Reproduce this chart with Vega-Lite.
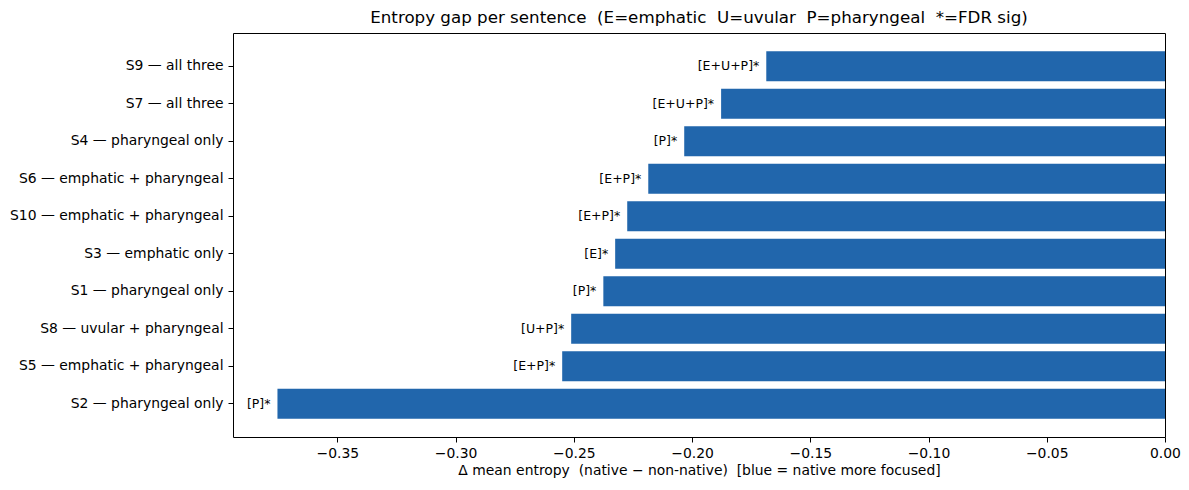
{
  "$schema": "https://vega.github.io/schema/vega-lite/v6.json",
  "width": 932,
  "height": 404,
  "autosize": "none",
  "padding": {"left": 233, "top": 33, "right": 24, "bottom": 53},
  "background": "white",
  "config": {
    "font": "DejaVu Sans",
    "view": {"stroke": "black", "strokeWidth": 1},
    "axis": {"grid": false, "domainColor": "black", "tickColor": "black", "labelColor": "black", "titleColor": "black", "labelFont": "DejaVu Sans", "titleFont": "DejaVu Sans", "titleFontWeight": "normal"}
  },
  "title": {"text": "Entropy gap per sentence \u00a0(E=emphatic \u00a0U=uvular \u00a0P=pharyngeal \u00a0*=FDR sig)", "fontSize": 16.7, "fontWeight": "normal", "color": "black", "offset": 6, "font": "DejaVu Sans"},
  "data": {
    "values": [
      {"sentence": "S9 — all three", "gap": -0.1686, "tag": "[E+U+P]*"},
      {"sentence": "S7 — all three", "gap": -0.1877, "tag": "[E+U+P]*"},
      {"sentence": "S4 — pharyngeal only", "gap": -0.2033, "tag": "[P]*"},
      {"sentence": "S6 — emphatic + pharyngeal", "gap": -0.2185, "tag": "[E+P]*"},
      {"sentence": "S10 — emphatic + pharyngeal", "gap": -0.2274, "tag": "[E+P]*"},
      {"sentence": "S3 — emphatic only", "gap": -0.2325, "tag": "[E]*"},
      {"sentence": "S1 — pharyngeal only", "gap": -0.2375, "tag": "[P]*"},
      {"sentence": "S8 — uvular + pharyngeal", "gap": -0.2511, "tag": "[U+P]*"},
      {"sentence": "S5 — emphatic + pharyngeal", "gap": -0.2549, "tag": "[E+P]*"},
      {"sentence": "S2 — pharyngeal only", "gap": -0.3753, "tag": "[P]*"}
    ]
  },
  "encoding": {
    "y": {
      "field": "sentence", "type": "nominal", "sort": null,
      "scale": {"paddingInner": 0.2, "paddingOuter": 0.49},
      "axis": {"title": null, "labelFontSize": 13.9, "tickSize": 5, "labelPadding": 5, "labelLimit": 400, "domain": false}
    },
    "x": {
      "field": "gap", "type": "quantitative",
      "scale": {"domain": [-0.3941, 0], "nice": false, "zero": false},
      "axis": {"title": "Δ mean entropy \u00a0(native − non-native) \u00a0[blue = native more focused]", "values": [-0.35, -0.3, -0.25, -0.2, -0.15, -0.1, -0.05, 0], "format": ".2f", "labelFontSize": 13.9, "titleFontSize": 13.9, "tickSize": 5, "labelPadding": 4, "titlePadding": 4, "domain": false, "labelFlush": false}
    }
  },
  "layer": [
    {
      "mark": {"type": "bar", "color": "#2166ac"},
      "encoding": {"x2": {"datum": 0}}
    },
    {
      "mark": {"type": "text", "align": "right", "baseline": "middle", "dx": -7, "fontSize": 12.5, "color": "black"},
      "encoding": {"text": {"field": "tag"}}
    }
  ]
}
